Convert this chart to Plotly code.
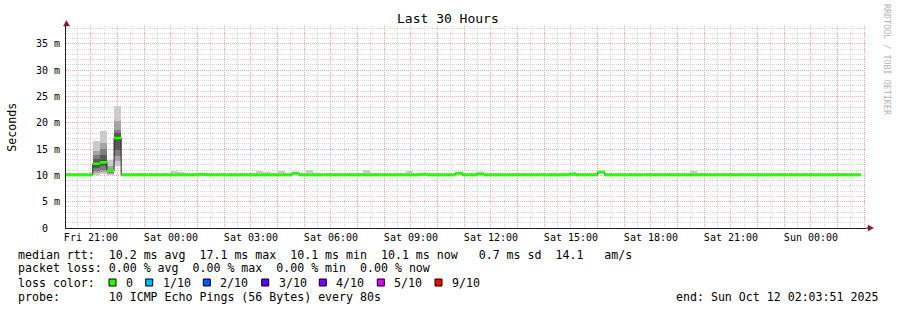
import plotly.graph_objects as go
import pandas as pd

# ---------------- data ----------------
title_text = "Last 30 Hours"
y_axis_title = "Seconds"
watermark_text = "RRDTOOL / TOBI OETIKER"

first_step_start = "2025-10-10 20:00:00"   # RRD consolidation grid
step_length_min = 16
view_start = "2025-10-10 20:03:51"
view_end = "2025-10-12 02:03:51"

# median RTT per 16-minute step (ms)
median_ms = [
    10.1, 10.1, 10.1, 10.1, 12.2, 12.5, 10.9, 17.1, 10.1, 10.1, 10.1, 10.1, 10.1, 10.1, 10.1, 10.1,
    10.1, 10.1, 10.1, 10.2, 10.1, 10.1, 10.1, 10.1, 10.1, 10.1, 10.1, 10.1, 10.1, 10.1, 10.1, 10.1,
    10.4, 10.1, 10.1, 10.1, 10.1, 10.1, 10.1, 10.1, 10.1, 10.1, 10.1, 10.1, 10.1, 10.1, 10.1, 10.1,
    10.1, 10.1, 10.2, 10.1, 10.1, 10.1, 10.1, 10.4, 10.1, 10.1, 10.3, 10.1, 10.1, 10.1, 10.1, 10.1,
    10.1, 10.1, 10.1, 10.1, 10.1, 10.1, 10.1, 10.2, 10.1, 10.1, 10.1, 10.6, 10.1, 10.1, 10.1, 10.1,
    10.1, 10.1, 10.1, 10.1, 10.1, 10.1, 10.1, 10.1, 10.1, 10.1, 10.1, 10.1, 10.1, 10.1, 10.1, 10.1,
    10.1, 10.1, 10.1, 10.1, 10.1, 10.1, 10.1, 10.1, 10.1, 10.1, 10.1, 10.1, 10.1, 10.1, 10.1, 10.1,
]

# highest ping per step (ms)
max_ms = [
    10.3, 10.3, 10.3, 10.3, 16.6, 18.5, 13.0, 23.2, 10.5, 10.5, 10.3, 10.3, 10.3, 10.3, 10.3, 10.75,
    10.6, 10.3, 10.3, 10.3, 10.3, 10.3, 10.3, 10.3, 10.3, 10.55, 10.55, 10.75, 10.7, 10.3, 10.75, 10.3,
    10.5, 10.3, 10.95, 10.3, 10.3, 10.3, 10.3, 10.3, 10.3, 10.3, 10.95, 10.5, 10.3, 10.5, 10.3, 10.3,
    10.75, 10.3, 10.3, 10.3, 10.3, 10.3, 10.3, 10.5, 10.5, 10.3, 10.4, 10.3, 10.3, 10.3, 10.3, 10.3,
    10.3, 10.3, 10.3, 10.3, 10.3, 10.5, 10.3, 10.7, 10.3, 10.3, 10.3, 10.85, 10.3, 10.3, 10.3, 10.3,
    10.3, 10.5, 10.3, 10.5, 10.3, 10.3, 10.3, 10.3, 10.75, 10.3, 10.3, 10.5, 10.3, 10.3, 10.5, 10.3,
    10.3, 10.3, 10.3, 10.3, 10.3, 10.3, 10.3, 10.5, 10.5, 10.3, 10.3, 10.3, 10.3, 10.3, 10.3, 10.3,
]

# all 10 sorted pings for the steps with visible smoke spread (ms)
spike_pings_ms = {
    4: [10.1, 10.45, 10.9, 11.4, 11.8, 12.6, 13.1, 13.9, 14.7, 16.6],
    5: [10.2, 10.6, 11.1, 11.7, 12.1, 12.9, 13.9, 15.0, 16.1, 18.5],
    6: [10.0, 10.2, 10.4, 10.6, 10.8, 11.0, 11.1, 11.3, 11.7, 13.0],
    7: [11.7, 12.8, 13.6, 14.9, 16.8, 17.4, 18.05, 18.7, 20.25, 23.2],
}

x_tick_labels = ["Fri 21:00", "Sat 00:00", "Sat 03:00", "Sat 06:00", "Sat 09:00",
                 "Sat 12:00", "Sat 15:00", "Sat 18:00", "Sat 21:00", "Sun 00:00"]
y_tick_values = [0, 5, 10, 15, 20, 25, 30, 35]
y_tick_labels = ["0  ", "5 m", "10 m", "15 m", "20 m", "25 m", "30 m", "35 m"]

rtt_stat_values = [10.2, 17.1, 10.1, 10.1]
rtt_stat_names = ["avg", "max", "min", "now"]
rtt_sd_ms = 0.7
rtt_am_per_s = 14.1
loss_stat_values = [0.00, 0.00, 0.00, 0.00]
loss_stat_names = ["avg", "max", "min", "now"]
loss_color_labels = ["0", "1/10", "2/10", "3/10", "4/10", "5/10", "9/10"]
loss_colors = ["#26ff00", "#00b8ff", "#0059ff", "#5e00ff", "#7e00ff", "#dd00ff", "#ff0000"]
probe_text = "10 ICMP Echo Pings (56 Bytes) every 80s"
end_text = "end: Sun Oct 12 02:03:51 2025"

# ---------------- layout helpers ----------------
W, H = 897, 310
L, R, T, B = 66, 31, 26, 82
PW, PH = W - L - R, H - T - B
MONO = "DejaVu Sans Mono"
NB = "\u00a0"


def px(x):
    return (x - L) / PW


def py(y):
    return (T + PH - y) / PH


def nb(s):
    return s.replace(" ", NB)


major_col = "rgb(244,168,168)"
minor_col = "rgb(212,212,212)"

# ---------------- build traces ----------------
n = len(median_ms)
starts = pd.date_range(first_step_start, periods=n, freq=f"{step_length_min}min")
step = pd.Timedelta(minutes=step_length_min)
centers = [s + step / 2 for s in starts]
fmt = "%Y-%m-%d %H:%M:%S"

pings = []
for k in range(n):
    if k in spike_pings_ms:
        pings.append(spike_pings_ms[k])
    else:
        pings.append([median_ms[k]] * 9 + [max_ms[k]])

fig = go.Figure()
half = 5
for ibot in range(1, half + 1):
    itop = 11 - ibot
    g = int(190 / half * (half - ibot)) + 50
    bases = [p[ibot - 1] for p in pings]
    heights = [p[itop - 1] - p[ibot - 1] for p in pings]
    fig.add_trace(go.Bar(
        x=[c.strftime(fmt) for c in centers], y=heights, base=bases,
        width=step.total_seconds() * 1000,
        marker=dict(color=f"rgb({g},{g},{g})", line=dict(width=0)),
        hoverinfo="skip",
    ))

# thin dark step line of the median
xs_step = [s.strftime(fmt) for s in starts] + [(starts[-1] + step).strftime(fmt)]
ys_step = list(median_ms) + [median_ms[-1]]
fig.add_trace(go.Scatter(x=xs_step, y=ys_step, mode="lines",
                         line=dict(color="#202020", width=1, shape="hv"), hoverinfo="skip"))

# green median segments (loss 0)
gx, gy = [], []
for k in range(n):
    gx += [starts[k].strftime(fmt), (starts[k] + step).strftime(fmt), None]
    gy += [median_ms[k], median_ms[k], None]
fig.add_trace(go.Scatter(x=gx, y=gy, mode="lines",
                         line=dict(color=loss_colors[0], width=3), hoverinfo="skip"))

# ---------------- axes ----------------
hours = pd.date_range("2025-10-10 21:00:00", "2025-10-12 02:00:00", freq="h")
hour_text = []
for i, h in enumerate(hours):
    hour_text.append(nb(x_tick_labels[i // 3]) if i % 3 == 0 else "")

fig.update_xaxes(
    type="date", range=[view_start, view_end],
    tickmode="array", tickvals=[h.strftime(fmt) for h in hours], ticktext=hour_text,
    showgrid=True, gridcolor=major_col, gridwidth=1, griddash="1px,1px",
    ticks="",
    showline=True, linecolor="#1f1f1f", linewidth=1, zeroline=False,
    tickfont=dict(family=MONO, size=10, color="black"),
    minor=dict(tickmode="linear", tick0=first_step_start, dtick=30 * 60 * 1000,
               showgrid=True, gridcolor=minor_col, gridwidth=1, griddash="1px,1px"),
    fixedrange=True,
)
fig.update_yaxes(
    range=[0, 38.4], tickmode="array", tickvals=y_tick_values,
    ticktext=[nb(t) for t in y_tick_labels],
    showgrid=True, gridcolor=major_col, gridwidth=1, griddash="1px,1px",
    ticks="outside", ticklen=3, tickcolor="rgba(0,0,0,0)",
    showline=True, linecolor="#1f1f1f", linewidth=1, zeroline=False,
    tickfont=dict(family=MONO, size=10, color="black"),
    minor=dict(tickmode="linear", tick0=0, dtick=1,
               showgrid=True, gridcolor=minor_col, gridwidth=1, griddash="1px,1px"),
    fixedrange=True,
)

# ---------------- text ----------------
ann = []


def text(x, y, s, size=11.6, xanchor="left", color="black", angle=0):
    ann.append(dict(x=px(x), y=py(y), xref="paper", yref="paper", text=nb(s), showarrow=False,
                    xanchor=xanchor, yanchor="middle", textangle=angle,
                    font=dict(family=MONO, size=size, color=color)))


text(448, 19, title_text, size=13, xanchor="center")
text(11.7, 127, y_axis_title, size=11.6, xanchor="center", angle=-90)
text(887, 60, watermark_text, size=8.4, xanchor="center", color="#b4b4b4", angle=90)

line1 = "median rtt:  " + "  ".join(f"{v:4.1f} ms {nm}" for v, nm in zip(rtt_stat_values, rtt_stat_names))
line1 += "  " + f"{rtt_sd_ms:4.1f} ms sd" + "  " + f"{rtt_am_per_s:4.1f}" + "   am/s"
line2 = "packet loss: " + "  ".join(f"{v:4.2f} % {nm}" for v, nm in zip(loss_stat_values, loss_stat_names))
text(16, 254.7, line1)
text(16, 268.3, line2)
text(16, 282.5, "loss color:")
text(16, 296.7, "probe:       " + probe_text)
text(880, 296.7, end_text, xanchor="right")

shapes = []
box_x = [109, 145.7, 203.3, 261.7, 319.3, 377.3, 435]
for bx, lab, col in zip(box_x, loss_color_labels, loss_colors):
    shapes.append(dict(type="rect", xref="paper", yref="paper",
                       x0=px(bx), x1=px(bx + 7), y0=py(286), y1=py(279),
                       fillcolor=col, line=dict(color="black", width=1)))
    text(bx + 15, 282.5, lab)

# arrows at the ends of the axes
arrow_col = "#801f1f"


def path(points):
    return "M " + " L ".join(f"{px(a)},{py(b)}" for a, b in points) + " Z"


shapes.append(dict(type="path", xref="paper", yref="paper",
                   path=path([(63.5, 26), (69.5, 26), (66.5, 20.5)]),
                   fillcolor=arrow_col, line=dict(color=arrow_col, width=0.5)))
shapes.append(dict(type="line", xref="paper", yref="paper",
                   x0=px(866), x1=px(868), y0=py(228), y1=py(228),
                   line=dict(color="#1f1f1f", width=1)))
shapes.append(dict(type="path", xref="paper", yref="paper",
                   path=path([(868, 225), (868, 231), (873.5, 228)]),
                   fillcolor=arrow_col, line=dict(color=arrow_col, width=0.5)))

fig.update_layout(
    width=W, height=H,
    margin=dict(l=L, r=R, t=T, b=B, pad=0),
    paper_bgcolor="white", plot_bgcolor="white",
    barmode="overlay", bargap=0, showlegend=False,
    font=dict(family=MONO, size=10, color="black"),
    annotations=ann, shapes=shapes,
)

fig.write_html("out.html")
